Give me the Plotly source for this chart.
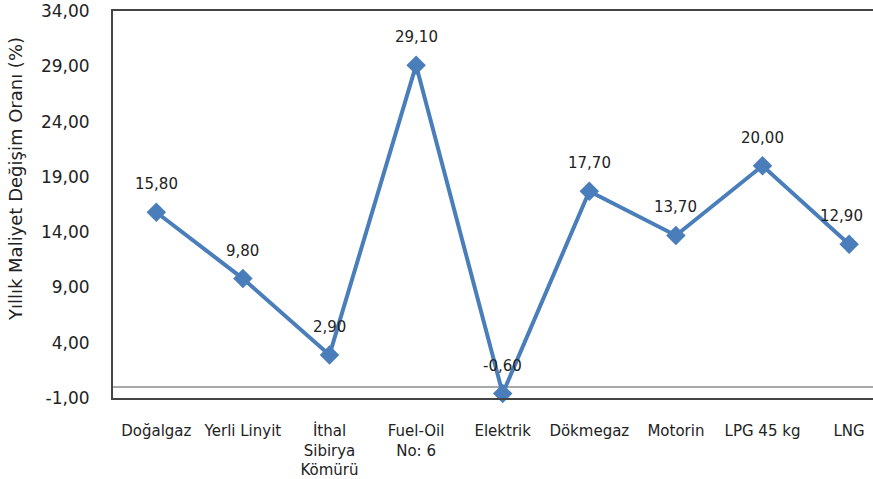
import plotly.graph_objects as go

# Fuel types and their yearly cost change (%)
categories = ["Doğalgaz", "Yerli Linyit", "İthal<br>Sibirya<br>Kömürü", "Fuel-Oil<br>No: 6",
              "Elektrik", "Dökmegaz", "Motorin", "LPG 45 kg", "LNG"]
values = [15.80, 9.80, 2.90, 29.10, -0.60, 17.70, 13.70, 20.00, 12.90]
y_ticks = [-1, 4, 9, 14, 19, 24, 29, 34]


def comma_fmt(v):
    return f"{v:.2f}".replace(".", ",")


LINE_BLUE = "#4A7EBB"
FONT = "DejaVu Sans"
TEXT = "#222222"

x_idx = list(range(len(categories)))

fig = go.Figure()
fig.add_trace(go.Scatter(
    x=x_idx, y=values, mode="lines+markers",
    line=dict(color=LINE_BLUE, width=4),
    marker=dict(symbol="diamond", size=15, color=LINE_BLUE),
    cliponaxis=False, showlegend=False,
))

# value labels above each point, decimal comma
label_xshift = [0, 0, 0, 0, 0, 0, 0, 0, -8]
for xi, v, dx in zip(x_idx, values, label_xshift):
    fig.add_annotation(
        x=xi, y=v, text=comma_fmt(v), showarrow=False,
        yshift=28, xshift=dx, font=dict(family=FONT, size=15, color=TEXT),
    )

# rotated y-axis title
fig.add_annotation(
    xref="paper", yref="paper", x=-0.128, y=0.565, textangle=-90,
    text="Yıllık Maliyet Değişim Oranı (%)", showarrow=False,
    font=dict(family=FONT, size=18, color=TEXT), xanchor="center", yanchor="middle",
)

fig.update_layout(
    width=873, height=479,
    margin=dict(l=113, r=0, t=11, b=81),
    paper_bgcolor="white", plot_bgcolor="white",
    xaxis=dict(
        tickmode="array", tickvals=x_idx, ticktext=categories,
        range=[-0.5, 8.276], showgrid=False, zeroline=False,
        showline=True, linecolor="#444444", linewidth=2, mirror=True,
        ticks="", ticklabelstandoff=18,
        tickfont=dict(family=FONT, size=15, color=TEXT),
    ),
    yaxis=dict(
        range=[-1, 34], tickmode="array", tickvals=y_ticks,
        ticktext=[comma_fmt(t) for t in y_ticks],
        showgrid=False, zeroline=True, zerolinecolor="#A8A8A8", zerolinewidth=2,
        showline=True, linecolor="#444444", linewidth=2,
        ticks="", ticklabelstandoff=18,
        tickfont=dict(family=FONT, size=17, color=TEXT),
    ),
)

fig.write_html("out.html")
